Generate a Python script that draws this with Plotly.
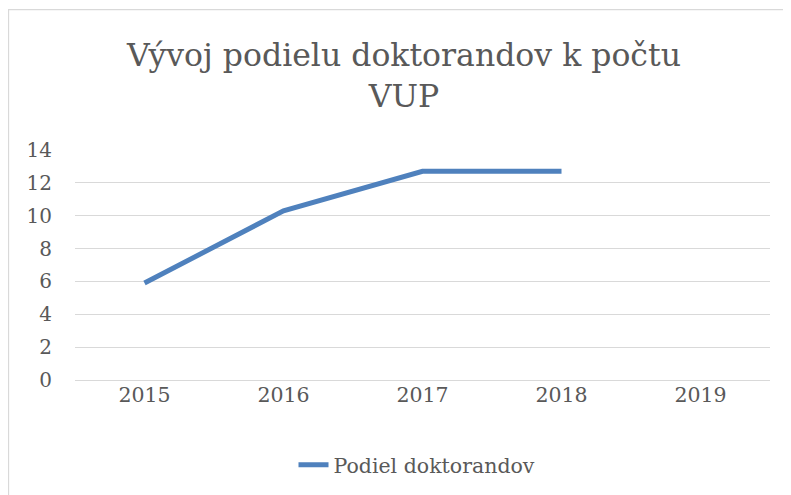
import plotly.graph_objects as go

years = ["2015", "2016", "2017", "2018", "2019"]
podiel = [5.9, 10.3, 12.7, 12.7, None]
y_ticks = [0, 2, 4, 6, 8, 10, 12, 14]

FONT = "DejaVu Serif"
GRAY = "#595959"

OFF = 8  # page body margin
W, H = 791 - OFF, 495 - OFF
L = 75 - OFF
R = W - (770 - OFF)
T = 150 - OFF
B = H - (381 - OFF)
pw, ph = W - L - R, H - T - B

fig = go.Figure()
fig.add_trace(go.Scatter(
    x=years, y=podiel, mode="lines", name="Podiel doktorandov",
    line=dict(color="#4f81bd", width=5), connectgaps=False,
))

fig.update_layout(
    width=W, height=H,
    margin=dict(l=L, r=R, t=T, b=B),
    paper_bgcolor="white", plot_bgcolor="white",
    title=dict(text="Vývoj podielu doktorandov k počtu<br>VUP",
               x=(404 - OFF) / W, xanchor="center", y=1 - (66 - OFF) / H, yanchor="middle",
               font=dict(family=FONT, size=31.5, color=GRAY)),
    xaxis=dict(type="category", showgrid=False, showline=False, ticks="",
               tickfont=dict(family=FONT, size=20.5, color=GRAY),
               range=[-0.5, 4.5], fixedrange=True),
    yaxis=dict(range=[0, 14], tickvals=y_ticks, showgrid=True, gridcolor="#d9d9d9",
               gridwidth=1.3, zeroline=True, zerolinecolor="#d9d9d9", zerolinewidth=1.3,
               showline=False, ticks="",
               tickfont=dict(family=FONT, size=20, color=GRAY), ticklabelstandoff=22),
    showlegend=True,
    legend=dict(orientation="h", x=(417 - L - OFF) / pw, xanchor="center",
                y=(381 - 465) / ph, yanchor="middle",
                font=dict(family=FONT, size=20.5, color=GRAY)),
)

# chart outer border
fig.add_shape(type="rect", xref="paper", yref="paper",
              x0=(8.5 - 75) / pw, x1=(800 - 75) / pw,
              y0=(381 - 505) / ph, y1=(381 - 9) / ph,
              line=dict(color="#d9d9d9", width=1.3), fillcolor="rgba(0,0,0,0)", layer="below")

fig.write_html("out.html")
